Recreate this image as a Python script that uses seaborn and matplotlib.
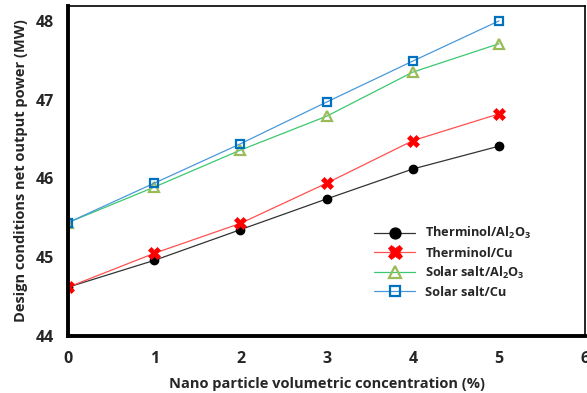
#!/usr/bin/env python3
"""Design conditions net output power vs nano particle concentration."""

import pandas as pd
import matplotlib
matplotlib.use("Agg")
import matplotlib.pyplot as plt
import seaborn as sns

concentration = [0, 1, 2, 3, 4, 5]
therminol_al2o3 = [44.62, 44.96, 45.35, 45.74, 46.12, 46.41]
therminol_cu = [44.62, 45.05, 45.43, 45.94, 46.48, 46.82]
solar_al2o3 = [45.44, 45.89, 46.36, 46.79, 47.35, 47.71]
solar_cu = [45.44, 45.94, 46.44, 46.97, 47.49, 48.00]

labels = ["Therminol/Al$_2$O$_3$", "Therminol/Cu",
          "Solar salt/Al$_2$O$_3$", "Solar salt/Cu"]


def main():
    sns.set_style("white")
    plt.rcParams['font.family'] = ['Open Sans', 'DejaVu Sans']
    plt.rcParams['mathtext.fontset'] = 'custom'
    plt.rcParams['mathtext.rm'] = 'Open Sans:bold'
    plt.rcParams['mathtext.it'] = 'Open Sans:bold'
    plt.rcParams['mathtext.bf'] = 'Open Sans:bold'

    fig = plt.figure(figsize=(5.87, 3.93), dpi=100)
    ax = fig.add_axes([0.116, 0.145, 0.881, 0.840])

    series = [therminol_al2o3, therminol_cu, solar_al2o3, solar_cu]
    styles = [
        dict(color='#333333', marker='o', markersize=6, markerfacecolor='black',
             markeredgecolor='black', markeredgewidth=1),
        dict(color='#ff5050', marker='X', markersize=8, markerfacecolor='#ff0000',
             markeredgecolor='#ff0000', markeredgewidth=0.5),
        dict(color='#3cc870', marker='^', markersize=7, markerfacecolor='none',
             markeredgecolor='#9bbb59', markeredgewidth=1.6),
        dict(color='#4a98dc', marker='s', markersize=6, markerfacecolor='none',
             markeredgecolor='#0070c0', markeredgewidth=1.6),
    ]
    for vals, lab, st in zip(series, labels, styles):
        df = pd.DataFrame({'x': concentration, 'y': vals})
        sns.lineplot(data=df, x='x', y='y', ax=ax, label=lab, linewidth=0.9, **st)

    ax.set_xlim(0, 6)
    ax.set_ylim(44, 48.19)
    ax.set_xticks(range(0, 7))
    ax.set_yticks([44, 45, 46, 47, 48])
    ax.tick_params(axis='both', labelsize=11.5, length=4, width=1.5, direction='out')
    for t in ax.get_xticklabels() + ax.get_yticklabels():
        t.set_fontweight('bold')
    ax.tick_params(axis='x', pad=7)
    ax.tick_params(axis='y', pad=6)

    ax.set_xlabel('Nano particle volumetric concentration (%)', fontsize=10.5,
                  fontweight='bold', labelpad=7)
    ax.set_ylabel('Design conditions net output power (MW)', fontsize=10.5,
                  fontweight='bold', labelpad=6)

    ax.spines['left'].set_linewidth(2.8)
    ax.spines['bottom'].set_linewidth(2.8)
    ax.spines['top'].set_linewidth(1.2)
    ax.spines['right'].set_linewidth(1.2)
    for s in ax.spines.values():
        s.set_color('black')

    leg = ax.legend(loc='upper left', bbox_to_anchor=(0.57, 0.37), frameon=False,
                    fontsize=9.2, markerscale=1.3, handlelength=3.2,
                    labelspacing=0.4)
    for t in leg.get_texts():
        t.set_fontweight('bold')

    fig.savefig('out.png', dpi=100)


if __name__ == "__main__":
    main()
